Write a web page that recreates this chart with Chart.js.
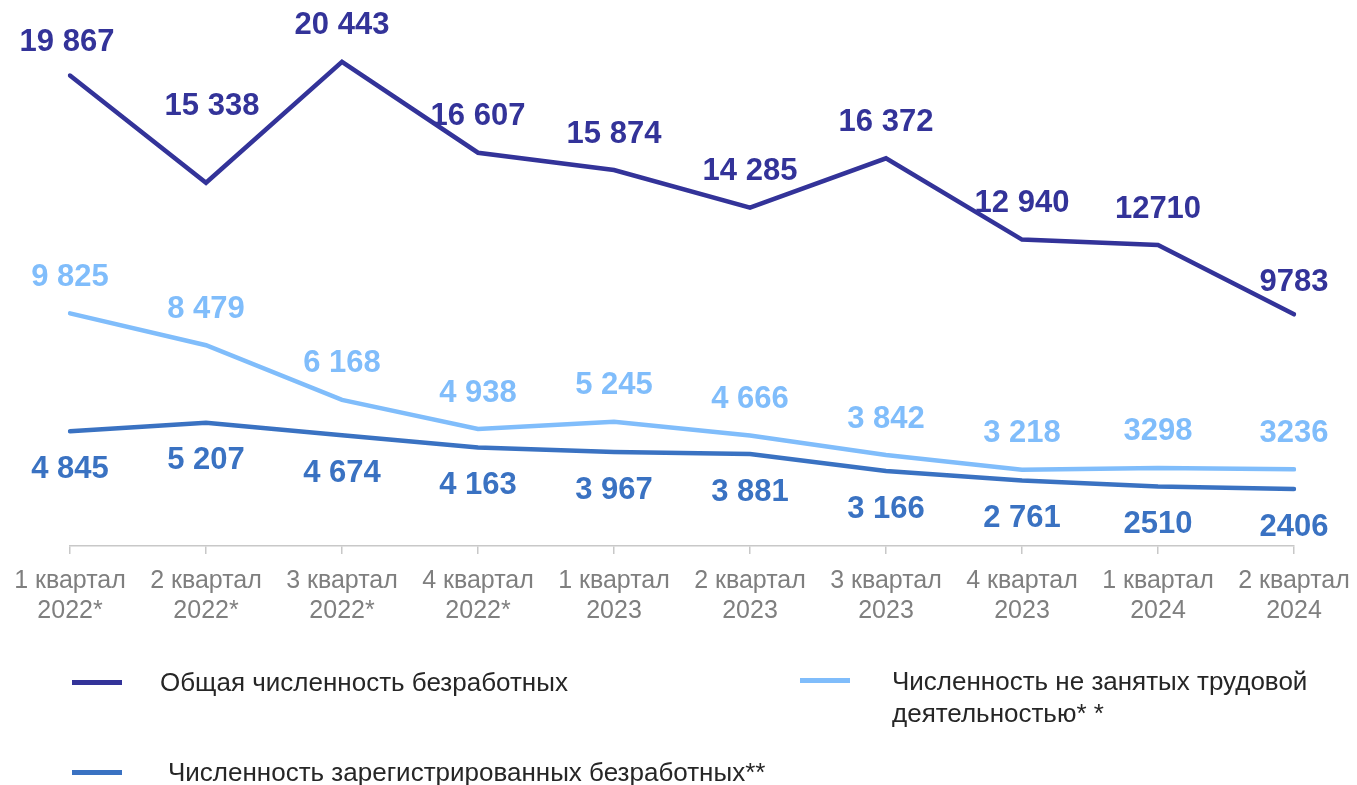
<!DOCTYPE html>
<html>
<head>
<meta charset="utf-8">
<script src="https://cdn.jsdelivr.net/npm/chart.js@4"></script>
<style>
  html, body { margin: 0; padding: 0; background: #fff; }
  #wrap { position: relative; width: 1357px; height: 785px; overflow: hidden; }
  #c { position: absolute; left: 0; top: 0; }
  .lg { position: absolute; font-family: "Liberation Sans", Arial, sans-serif; font-size: 26px; color: #262626; line-height: 32px; white-space: nowrap; }
  .sw { position: absolute; height: 5px; width: 50px; }
</style>
</head>
<body>
<div id="wrap">
  <canvas id="c" width="1357" height="785"></canvas>
  <div class="sw" id="sw0" style="left:72px;top:680px;"></div>
  <div class="lg" id="lg0" style="left:160px;top:666px;"></div>
  <div class="sw" id="sw1" style="left:800px;top:678px;"></div>
  <div class="lg" id="lg1" style="left:892px;top:665px;"></div>
  <div class="sw" id="sw2" style="left:72px;top:770px;"></div>
  <div class="lg" id="lg2" style="left:168px;top:756px;"></div>
</div>
<script>
// ---- data ----
const categories = [
  ["1 квартал", "2022*"], ["2 квартал", "2022*"], ["3 квартал", "2022*"], ["4 квартал", "2022*"],
  ["1 квартал", "2023"], ["2 квартал", "2023"], ["3 квартал", "2023"], ["4 квартал", "2023"],
  ["1 квартал", "2024"], ["2 квартал", "2024"]
];
const seriesNames = [
  "Общая численность безработных",
  "Численность не занятых трудовой\nдеятельностью* *",
  "Численность зарегистрированных безработных**"
];
const totalUnemployed = [19867, 15338, 20443, 16607, 15874, 14285, 16372, 12940, 12710, 9783];
const notEmployed     = [9825, 8479, 6168, 4938, 5245, 4666, 3842, 3218, 3298, 3236];
const registered      = [4845, 5207, 4674, 4163, 3967, 3881, 3166, 2761, 2510, 2406];
const totalLabels      = ["19 867", "15 338", "20 443", "16 607", "15 874", "14 285", "16 372", "12 940", "12710", "9783"];
const notEmployedLabels = ["9 825", "8 479", "6 168", "4 938", "5 245", "4 666", "3 842", "3 218", "3298", "3236"];
const registeredLabels  = ["4 845", "5 207", "4 674", "4 163", "3 967", "3 881", "3 166", "2 761", "2510", "2406"];

const colors = ["#333399", "#80BDFB", "#3A72C2"];

// legend (HTML text)
for (let i = 0; i < 3; i++) {
  document.getElementById("sw" + i).style.background = colors[i];
  document.getElementById("lg" + i).innerHTML = seriesNames[i].replace("\n", "<br>");
}

const valueLabels = {
  id: "valueLabels",
  afterDatasetsDraw(chart, args, opts) {
    const ctx = chart.ctx;
    ctx.save();
    ctx.font = "bold 31px 'Liberation Sans', Arial, sans-serif";
    ctx.textAlign = "center";
    ctx.textBaseline = "middle";
    chart.data.datasets.forEach((ds, di) => {
      const meta = chart.getDatasetMeta(di);
      const cfg = opts.sets[di];
      meta.data.forEach((pt, i) => {
        const n = (cfg.nudge && cfg.nudge[i]) || [0, 0];
        ctx.fillStyle = ds.borderColor;
        ctx.fillText(cfg.labels[i], pt.x + n[0], pt.y + cfg.dy + n[1]);
      });
    });
    ctx.restore();
  }
};

new Chart(document.getElementById("c"), {
  type: "line",
  data: {
    labels: categories,
    datasets: [
      { data: totalUnemployed, borderColor: colors[0] },
      { data: notEmployed, borderColor: colors[1] },
      { data: registered, borderColor: colors[2] }
    ].map(d => Object.assign(d, { borderWidth: 4.5, pointRadius: 0, tension: 0, borderCapStyle: "round", borderJoinStyle: "miter", fill: false }))
  },
  options: {
    responsive: false,
    animation: false,
    layout: { padding: { top: 25, left: 70, right: 63, bottom: 147 } },
    plugins: {
      legend: { display: false },
      tooltip: { enabled: false },
      valueLabels: {
        sets: [
          { labels: totalLabels, dy: -36, nudge: { 0: [-3, 3], 1: [6, -40], 9: [0, 4] } },
          { labels: notEmployedLabels, dy: -36 },
          { labels: registeredLabels, dy: 38 }
        ]
      }
    },
    scales: {
      y: { display: false, min: 0, max: 22000 },
      x: {
        offset: false,
        afterFit: (s) => { s.paddingLeft = 0; s.paddingRight = 0; },
        border: { display: true, color: "#C8C8C8", width: 1.5 },
        grid: { display: true, drawOnChartArea: false, drawTicks: true, tickLength: 8, color: "#C8C8C8", lineWidth: 1.5 },
        ticks: {
          color: "#7F7F7F",
          font: { family: "'Liberation Sans', Arial, sans-serif", size: 25 },
          padding: 12,
          maxRotation: 0,
          autoSkip: false
        }
      }
    }
  },
  plugins: [valueLabels]
});
</script>
</body>
</html>
